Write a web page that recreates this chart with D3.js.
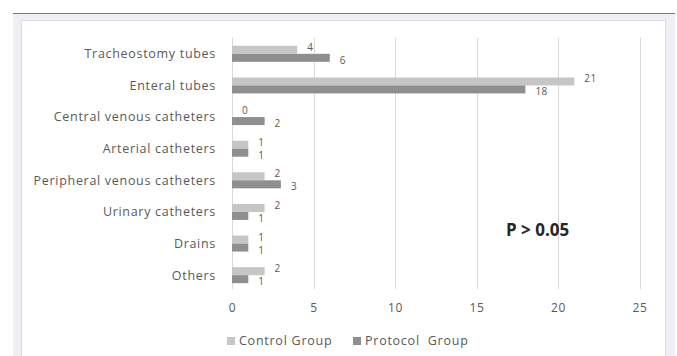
<!DOCTYPE html>
<html>
<head>
<meta charset="utf-8">
<script src="https://cdn.jsdelivr.net/npm/d3@7"></script>
<style>
  html, body { margin: 0; padding: 0; background: #fff; }
  svg { display: block; }
  text { font-family: "Open Sans", "DejaVu Sans", sans-serif; }
</style>
</head>
<body>
<svg id="chart" width="677" height="356"></svg>
<script>
// Device counts per group
const categories = [
  "Tracheostomy tubes",
  "Enteral tubes",
  "Central venous catheters",
  "Arterial catheters",
  "Peripheral venous catheters",
  "Urinary catheters",
  "Drains",
  "Others"
];
const controlValues  = [4, 21, 0, 1, 2, 2, 1, 2];
const protocolValues = [6, 18, 2, 1, 3, 1, 1, 1];
const seriesNames = ["Control Group", "Protocol  Group"];
const xTicks = [0, 5, 10, 15, 20, 25];
const annotation = "P > 0.05";

const colors = ["#c6c6c6", "#8f8f8f"];
const textColor = "#595959";

const svg = d3.select("#chart");

// Frame: light outer panel with a dark top rule, white inner panel
svg.append("rect").attr("x", 13).attr("y", 13).attr("width", 662).attr("height", 360)
  .attr("fill", "#eff0f6");
svg.append("line").attr("x1", 13).attr("x2", 675).attr("y1", 13.5).attr("y2", 13.5)
  .attr("stroke", "#7a7a7a").attr("stroke-width", 1);
svg.append("rect").attr("x", 21.5).attr("y", 20.5).attr("width", 644).attr("height", 360)
  .attr("fill", "#ffffff").attr("stroke", "#dcdde3").attr("stroke-width", 1);

const x = d3.scaleLinear().domain([0, 25]).range([232, 639.5]);
const y = d3.scaleBand().domain(categories).range([38, 291]);
const sub = d3.scaleBand().domain([0, 1]).range([0, 16]);

// Vertical gridlines
const xAxis = d3.axisBottom(x).tickValues(xTicks).tickSize(0).tickFormat(d3.format("d"));
svg.append("g")
  .selectAll("line")
  .data(xTicks)
  .join("line")
  .attr("x1", d => Math.round(x(d)) + 0.5)
  .attr("x2", d => Math.round(x(d)) + 0.5)
  .attr("y1", 38)
  .attr("y2", 289)
  .attr("stroke", "#d9d9d9")
  .attr("stroke-width", 1);

// X tick labels
const gx = svg.append("g").attr("transform", "translate(0,300)").call(xAxis);
gx.select(".domain").remove();
gx.selectAll("text")
  .attr("fill", textColor)
  .attr("font-family", "'Open Sans', sans-serif")
  .attr("font-size", "12px")
  .attr("letter-spacing", "0.6px")
  .attr("dy", "0.71em");

// Category labels
svg.append("g")
  .selectAll("text")
  .data(categories)
  .join("text")
  .attr("x", 216)
  .attr("y", d => y(d) + y.bandwidth() / 2)
  .attr("dy", "0.35em")
  .attr("text-anchor", "end")
  .attr("fill", textColor)
  .attr("font-size", "12.5px")
  .attr("letter-spacing", "0.7px")
  .text(d => d);

// Bars and value labels
const series = [controlValues, protocolValues];
series.forEach((vals, si) => {
  const g = svg.append("g");
  const rows = categories.map((c, i) => ({ c, v: vals[i] }));
  g.selectAll("rect")
    .data(rows)
    .join("rect")
    .attr("x", x(0))
    .attr("y", d => y(d.c) + y.bandwidth() / 2 - 8 + sub(si))
    .attr("width", d => x(d.v) - x(0))
    .attr("height", sub.bandwidth())
    .attr("fill", colors[si]);
  g.selectAll("text")
    .data(rows)
    .join("text")
    .attr("x", d => x(d.v) + 10)
    .attr("y", d => y(d.c) + y.bandwidth() / 2 - 8 + sub(si) + sub.bandwidth() / 2 + (si ? 2.5 : -2.5))
    .attr("dy", "0.35em")
    .attr("fill", textColor)
    .attr("font-size", "10px")
    .attr("letter-spacing", "0.5px")
    .text(d => d.v);
});

// Significance note
svg.append("text")
  .attr("x", 506)
  .attr("y", 236)
  .attr("font-family", "'Liberation Sans', Arial, sans-serif")
  .attr("font-weight", "bold")
  .attr("font-size", "17px")
  .attr("fill", "#262626")
  .text(annotation);

// Legend
const legendX = [227, 353];
const legend = svg.append("g");
seriesNames.forEach((name, i) => {
  legend.append("rect")
    .attr("x", legendX[i]).attr("y", 337)
    .attr("width", 8).attr("height", 8)
    .attr("fill", colors[i]);
  legend.append("text")
    .attr("x", legendX[i] + 12).attr("y", 341)
    .attr("dy", "0.35em")
    .attr("fill", textColor)
    .attr("font-size", "12.5px")
    .attr("letter-spacing", "0.75px")
    .attr("xml:space", "preserve")
    .style("white-space", "pre")
    .text(name);
});
</script>
</body>
</html>
